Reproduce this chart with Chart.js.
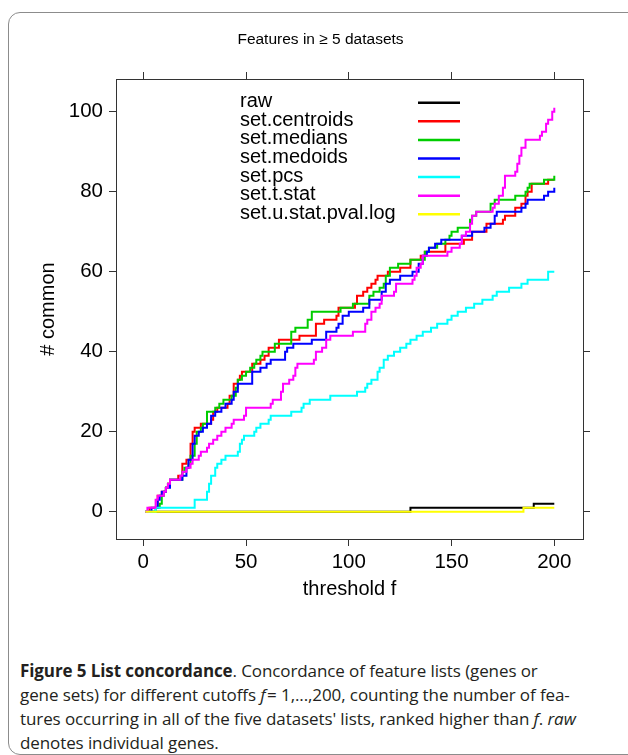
<!DOCTYPE html>
<html>
<head>
<meta charset="utf-8">
<script src="https://cdn.jsdelivr.net/npm/chart.js@4.4.0/dist/chart.umd.min.js"></script>
<style>
    html, body { margin: 0; padding: 0; background: #fff; width: 628px; height: 755px; overflow: hidden; }
    #frame { position: absolute; left: 8px; top: 12px; width: 700px; height: 741px; border: 1px solid #8c8c8c; border-radius: 12px; }
    #wrap { position: absolute; left: 0; top: 0; width: 628px; height: 640px; }
    #caption { position: absolute; left: 20px; top: 659px; font-family: "Open Sans", sans-serif; font-size: 17px; line-height: 24px; letter-spacing: -0.1px; color: #231f20; white-space: nowrap; }
</style>
</head>
<body>
<div id="frame"></div>
<div id="wrap"><canvas id="chart" width="628" height="640"></canvas></div>
<div id="caption"><b>Figure 5 List concordance</b>. Concordance of feature lists (genes or<br>gene sets) for different cutoffs <i>f</i>&#8202;= 1,...,200, counting the number of fea-<br>tures occurring in all of the five datasets' lists, ranked higher than <i>f</i>. <i>raw</i><br>denotes individual genes.</div>
<script>
// step change points: [threshold f, # common from f on]
const chartTitle = 'Features in \u2265 5 datasets';
const seriesNames = ['raw', 'set.centroids', 'set.medians', 'set.medoids', 'set.pcs', 'set.t.stat', 'set.u.stat.pval.log'];
const seriesColors = ['#000000', '#ff0000', '#00cd00', '#0000ff', '#00ffff', '#ff00ff', '#ffff00'];
const xTicks = [0, 50, 100, 150, 200];
const yTicks = [0, 20, 40, 60, 80, 100];

const raw = [[1, 0], [130, 1], [190, 2], [200, 2]];
const centroids = [[1, 0], [3, 1], [7, 4], [9, 5], [11, 6], [12, 7], [13, 8], [17, 9], [19, 12], [21, 13], [23, 17], [24, 20], [25, 21], [28, 22], [33, 23], [34, 25], [36, 26], [41, 27], [42, 29], [44, 32], [46, 33], [47, 34], [48, 35], [53, 37], [57, 38], [59, 39], [61, 41], [66, 43], [76, 44], [84, 47], [88, 48], [94, 49], [95, 51], [103, 52], [104, 54], [107, 55], [109, 56], [111, 57], [113, 58], [114, 59], [119, 60], [125, 61], [130, 63], [135, 64], [137, 65], [147, 67], [156, 68], [160, 70], [167, 72], [175, 73], [176, 74], [181, 76], [184, 77], [186, 79], [187, 80], [189, 82], [197, 83], [200, 83]];
const medians = [[1, 0], [6, 1], [8, 2], [9, 4], [10, 5], [11, 6], [12, 7], [13, 8], [19, 10], [20, 11], [22, 12], [23, 14], [25, 17], [26, 20], [28, 21], [29, 22], [31, 25], [35, 26], [37, 27], [39, 28], [43, 29], [45, 31], [46, 33], [48, 34], [50, 35], [52, 36], [54, 37], [55, 38], [57, 39], [58, 40], [64, 42], [72, 45], [74, 46], [80, 48], [82, 50], [96, 51], [102, 52], [110, 54], [112, 55], [115, 56], [117, 57], [118, 59], [120, 61], [124, 62], [130, 63], [137, 65], [139, 66], [143, 67], [147, 68], [149, 69], [150, 70], [153, 71], [159, 73], [160, 74], [162, 75], [169, 77], [171, 78], [181, 79], [186, 80], [187, 81], [188, 82], [195, 83], [200, 84]];
const medoids = [[1, 0], [4, 1], [7, 3], [8, 4], [9, 5], [11, 6], [13, 8], [19, 9], [21, 11], [22, 13], [24, 17], [25, 19], [27, 20], [29, 21], [31, 22], [33, 24], [35, 25], [38, 26], [40, 27], [43, 28], [44, 30], [46, 32], [53, 35], [57, 36], [60, 37], [62, 38], [69, 40], [70, 41], [73, 42], [82, 43], [89, 45], [94, 46], [95, 47], [97, 49], [100, 50], [107, 51], [110, 53], [116, 55], [118, 57], [120, 58], [125, 59], [131, 60], [134, 62], [136, 64], [138, 65], [139, 66], [142, 67], [145, 68], [155, 69], [160, 70], [166, 71], [169, 72], [171, 74], [172, 75], [184, 76], [186, 77], [187, 78], [195, 79], [197, 80], [200, 81]];
const pcs = [[1, 0], [6, 1], [25, 3], [31, 5], [32, 7], [33, 9], [35, 11], [36, 12], [38, 13], [40, 14], [46, 15], [47, 17], [48, 18], [49, 19], [54, 20], [55, 21], [57, 22], [61, 23], [62, 24], [72, 25], [77, 26], [78, 27], [81, 28], [91, 29], [104, 30], [108, 31], [109, 32], [111, 33], [114, 35], [115, 36], [117, 38], [119, 39], [122, 40], [125, 41], [128, 42], [130, 43], [133, 44], [136, 45], [140, 46], [143, 47], [148, 48], [150, 49], [153, 50], [157, 51], [161, 52], [165, 53], [170, 54], [172, 55], [178, 56], [184, 57], [187, 58], [197, 60], [200, 60]];
const tStat = [[1, 0], [2, 1], [6, 3], [7, 4], [10, 5], [11, 6], [12, 7], [13, 8], [18, 9], [19, 10], [21, 11], [23, 12], [24, 13], [27, 14], [28, 15], [31, 16], [32, 17], [34, 18], [36, 19], [38, 20], [40, 21], [43, 22], [44, 23], [49, 24], [50, 26], [62, 27], [63, 28], [67, 30], [68, 32], [71, 33], [73, 34], [74, 36], [75, 37], [83, 38], [84, 40], [87, 41], [89, 43], [91, 44], [102, 45], [108, 47], [109, 48], [111, 50], [113, 51], [115, 52], [116, 54], [122, 55], [123, 57], [131, 58], [132, 59], [133, 61], [135, 62], [136, 64], [148, 65], [150, 66], [154, 67], [155, 69], [157, 70], [159, 72], [160, 74], [162, 75], [170, 76], [171, 77], [173, 79], [175, 81], [176, 84], [181, 85], [182, 87], [183, 89], [184, 91], [186, 93], [193, 94], [194, 95], [196, 97], [197, 98], [199, 100], [200, 101]];
const uStat = [[1, 0], [185, 1], [200, 1]];

const allSeries = [raw, centroids, medians, medoids, pcs, tStat, uStat];

const font = '"Liberation Sans", Arial, sans-serif';

// title and the R-style legend block inside the plot box
const overlay = {
    id: 'overlay',
    afterDraw(chart) {
        const { ctx } = chart;
        ctx.save();
        ctx.fillStyle = '#000';
        ctx.font = `15.5px ${font}`;
        ctx.textAlign = 'center';
        ctx.textBaseline = 'middle';
        ctx.fillText(chartTitle, 320.5, 40);

        ctx.font = `20px ${font}`;
        ctx.textAlign = 'left';
        chart.data.datasets.forEach((ds, i) => {
            const y = 102.7 + i * 18.6;
            ctx.fillStyle = '#000';
            ctx.fillText(ds.label, 240, y - 1);
            ctx.strokeStyle = ds.borderColor;
            ctx.lineWidth = 2.5;
            ctx.beginPath();
            ctx.moveTo(418, y);
            ctx.lineTo(460, y);
            ctx.stroke();
        });
        ctx.restore();
    }
};

const setTicks = list => scale => { scale.ticks = list.map(v => ({ value: v })); };
const edge = { display: true, color: '#333', width: 1 };
const gridOpts = { drawOnChartArea: false, drawTicks: true, tickLength: 7, color: '#333' };

new Chart(document.getElementById('chart'), {
    type: 'line',
    data: {
        datasets: allSeries.map((s, i) => ({
            label: seriesNames[i],
            data: s.map(p => ({ x: p[0], y: p[1] })),
            borderColor: seriesColors[i],
            borderWidth: 2,
            pointRadius: 0,
            stepped: true,
            fill: false,
            order: allSeries.length - 1 - i
        }))
    },
    options: {
        responsive: false,
        animation: false,
        layout: { padding: 0 },
        plugins: { legend: { display: false }, tooltip: { enabled: false } },
        scales: {
            x: {
                type: 'linear', position: 'bottom', min: -13.28, max: 213.97,
                afterBuildTicks: setTicks(xTicks),
                afterFit: s => { s.height = 101; },
                border: edge, grid: gridOpts,
                ticks: { color: '#000', font: { family: font, size: 20.5 }, padding: 4, maxRotation: 0 },
                title: { display: true, text: 'threshold f', color: '#000', font: { family: font, size: 20 }, padding: { bottom: 39 } }
            },
            y: {
                type: 'linear', position: 'left', min: -6.83, max: 108.17,
                afterBuildTicks: setTicks(yTicks),
                afterFit: s => { s.width = 116; },
                border: edge, grid: gridOpts,
                ticks: { color: '#000', font: { family: font, size: 20.5 }, padding: 6 },
                title: { display: true, text: '# common', color: '#000', font: { family: font, size: 20 }, padding: { top: 36 } }
            },
            x2: {
                type: 'linear', axis: 'x', position: 'top', min: -13.28, max: 213.97,
                afterBuildTicks: setTicks(xTicks),
                afterFit: s => { s.height = 79; },
                border: edge, grid: gridOpts,
                ticks: { display: false }
            },
            y2: {
                type: 'linear', axis: 'y', position: 'right', min: -6.83, max: 108.17,
                afterBuildTicks: setTicks(yTicks),
                afterFit: s => { s.width = 45; },
                border: edge, grid: gridOpts,
                ticks: { display: false }
            }
        }
    },
    plugins: [overlay]
});
</script>
</body>
</html>
